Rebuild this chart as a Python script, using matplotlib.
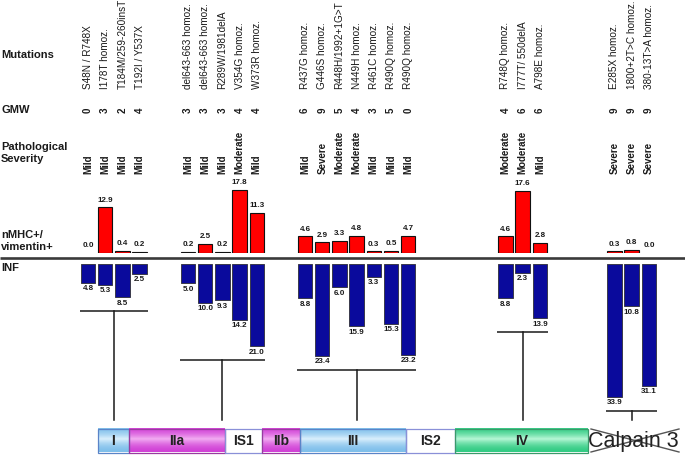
import matplotlib
matplotlib.use('Agg')
import matplotlib.pyplot as plt
import numpy as np
from matplotlib.patches import Rectangle

plt.rcParams['font.family'] = ['Liberation Sans', 'DejaVu Sans']

# ---------------- data ----------------
mutations = [
    ["S48N / R748X", "I178T homoz.", "T184M/259-260insT", "T192I / Y537X"],
    ["del643-663 homoz.", "del643-663 homoz.", "R289W/1981delA", "V354G homoz.", "W373R homoz."],
    ["R437G homoz.", "G446S homoz.", "R448H/1992+1G>T", "N449H homoz.", "R461C homoz.",
     "R490Q homoz.", "R490Q homoz."],
    ["R748Q homoz.", "I777T/ 550delA", "A798E homoz."],
    ["E285X homoz.", "1800+2T>C homoz.", "380-13T>A homoz."],
]
gmw = [[0, 3, 2, 4], [3, 3, 3, 4, 4], [6, 9, 5, 4, 3, 5, 0], [4, 6, 6], [9, 9, 9]]
severity = [
    ["Mild", "Mild", "Mild", "Mild"],
    ["Mild", "Mild", "Mild", "Moderate", "Mild"],
    ["Mild", "Severe", "Moderate", "Moderate", "Mild", "Mild", "Mild"],
    ["Moderate", "Moderate", "Mild"],
    ["Severe", "Severe", "Severe"],
]
nmhc = [[0.0, 12.9, 0.4, 0.2], [0.2, 2.5, 0.2, 17.8, 11.3],
        [4.6, 2.9, 3.3, 4.8, 0.3, 0.5, 4.7], [4.6, 17.6, 2.8], [0.3, 0.8, 0.0]]
inf = [[4.8, 5.3, 8.5, 2.5], [5.0, 10.0, 9.3, 14.2, 21.0],
       [8.8, 23.4, 6.0, 15.9, 3.3, 15.3, 23.2], [8.8, 2.3, 13.9], [33.9, 10.8, 31.1]]
domains = ["I", "IIa", "IS1", "IIb", "III", "IS2", "IV"]
domain_kind = ["blue", "mag", "white", "mag", "blue", "white", "green"]
row_labels = ["Mutations", "GMW", "Pathological\nSeverity", "nMHC+/\nvimentin+", "INF"]

# ---------------- layout ----------------
W, H = 685, 457
group_start = [88, 188, 305, 505.5, 614.5]
step = 17.2
bar_w = 14.5
red_base, red_scale = 252.5, 3.51
blue_top, blue_scale = 263.7, 3.93
dom_edges = [98, 129, 225, 262, 300.5, 406, 455, 588]
dom_y0, dom_y1 = 428.5, 452.5
stem_end = 420

fig = plt.figure(figsize=(6.85, 4.57), dpi=100)

def rect(x0, y0, x1, y1):
    return [x0 / W, 1 - y1 / H, (x1 - x0) / W, (y1 - y0) / H]

ax = fig.add_axes([0, 0, 1, 1])
ax.axis('off')

red_top = 170
ax_r = fig.add_axes(rect(0, red_top, W, red_base))
ax_r.set_xlim(0, W)
ax_r.set_ylim(0, (red_base - red_top) / red_scale)
ax_r.axis('off')

ax_b = fig.add_axes(rect(0, blue_top, W, H))
ax_b.set_xlim(0, W)
ax_b.set_ylim((H - blue_top) / blue_scale, 0)
ax_b.axis('off')

txt = '#1a1a1a'
vfs = 5.8

# row labels
row_y = [55, 110, 152.5, 241, 268]
for lab, y in zip(row_labels, row_y):
    ax.text(1, y, lab, fontsize=8, fontweight='bold', va='center', ha='left',
            color=txt, linespacing=1.25)

# main separator line
ax.plot([0, W], [258.3, 258.3], color='#3a3a3a', lw=1.9, solid_capstyle='butt')

for g in range(len(mutations)):
    xs = [group_start[g] + i * step for i in range(len(mutations[g]))]
    for i, x in enumerate(xs):
        ax.text(x, 89, mutations[g][i], rotation=90, ha='center', va='bottom',
                fontsize=7.2, color=txt)
        ax.text(x, 110, str(gmw[g][i]), rotation=90, ha='center', va='center',
                fontsize=7, fontweight='bold', color=txt)
        ax.text(x, 174, severity[g][i], rotation=90, ha='center', va='bottom',
                fontsize=7, fontweight='bold', color=txt)
    # red bars
    for x, v in zip(xs, nmhc[g]):
        if v > 0:
            ax_r.bar(x, v, width=bar_w, color='#ff0000', edgecolor='#111111', lw=0.8)
        ax_r.annotate(f"{v:.1f}", (x, v), xytext=(0, 2.6), textcoords='offset points',
                      ha='center', va='bottom', fontsize=vfs, fontweight='bold', color=txt)
    # blue bars
    for x, v in zip(xs, inf[g]):
        ax_b.bar(x, v, width=bar_w, color='#0a0a9c', edgecolor='#3a3a4a', lw=0.7)
        ax_b.annotate(f"{v:.1f}", (x, v), xytext=(0, -1.8), textcoords='offset points',
                      ha='center', va='top', fontsize=vfs, fontweight='bold', color=txt)
    # bracket
    yb = max(inf[g]) + 14 / blue_scale
    x0 = xs[0] - bar_w / 2 - 1
    x1 = xs[-1] + bar_w / 2 + 1
    xc = (xs[0] + xs[-1]) / 2
    ax_b.plot([x0, x1], [yb, yb], color='#1a1a1a', lw=1.1, solid_capstyle='butt')
    ax_b.plot([xc, xc], [yb, (stem_end - blue_top) / blue_scale], color='#1a1a1a', lw=1.1)

# domain bar with gradients
cols = {
    'blue': ((0.50, 0.75, 0.92), (0.86, 0.94, 0.99), '#5a84c8'),
    'mag': ((0.82, 0.26, 0.84), (0.95, 0.68, 0.95), '#9a3aa0'),
    'green': ((0.20, 0.80, 0.52), (0.72, 0.97, 0.84), '#3a9a6a'),
    'white': ((1, 1, 1), (1, 1, 1), '#8a90d8'),
}
t = np.linspace(0, 1, 60)
prof = np.clip(1 - np.abs(t - 0.45) / 0.55, 0, 1) ** 1.8
for k, name in enumerate(domains):
    a, b = dom_edges[k], dom_edges[k + 1]
    edge, center, bc = cols[domain_kind[k]]
    edge = np.array(edge); center = np.array(center)
    img = edge[None, :] + (center - edge)[None, :] * prof[:, None]
    img = img[:, None, :]
    ax.imshow(img, extent=(a, b, dom_y1, dom_y0), origin='upper', aspect='auto',
              interpolation='bilinear', zorder=1)
    ax.add_patch(Rectangle((a, dom_y0), b - a, dom_y1 - dom_y0, fill=False,
                           edgecolor=bc, lw=0.9, zorder=2))
    ax.text((a + b) / 2, (dom_y0 + dom_y1) / 2 + 0.5, name, ha='center', va='center',
            fontsize=10, fontweight='bold', color='#222222', zorder=3)

# crossed-out Calpain 3
ax.text(633, 441, "Calpain 3", ha='center', va='center', fontsize=15.5, color='#222222')
ax.plot([591, 679], [429, 452], color='#555555', lw=1.0)
ax.plot([591, 679], [452, 429], color='#555555', lw=1.0)

ax.set_xlim(0, W)
ax.set_ylim(H, 0)

fig.savefig('out.png', dpi=100)
